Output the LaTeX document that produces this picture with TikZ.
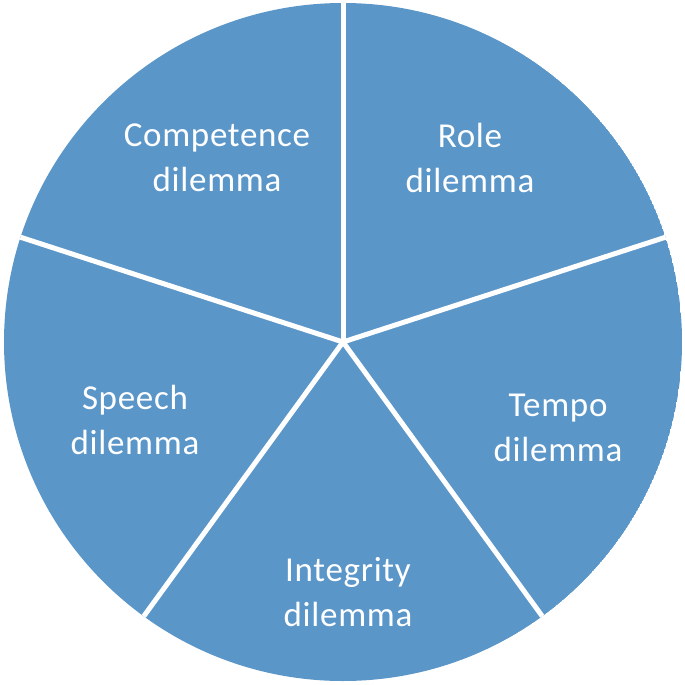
\documentclass[tikz,border=0pt]{standalone}
\usepackage{fontspec}
\setmainfont{Carlito}[LetterSpace=2]
\definecolor{pieblue}{RGB}{91,150,201}
\begin{document}
\begin{tikzpicture}[x=1pt,y=1pt,
  lbl/.style={text=white,align=center,font=\fontsize{35}{45}\selectfont,inner sep=0pt},
  sep/.style={white,line width=5pt}]
\useasboundingbox (0,0) rectangle (685,-685);
\coordinate (c) at (343,-342);
\begin{scope}
\clip (c) circle (339);
\fill[pieblue] (c) circle (339);
\foreach \a in {90,18,-54,-126,162}
  \draw[sep] (c) -- ++(\a:360);
\end{scope}
\node[lbl] (comp) at (217,-158) {Competence\\dilemma};
\node[lbl] (role) at (470,-158) {Role\\dilemma};
\node[lbl] (tempo) at (558,-428) {Tempo\\dilemma};
\node[lbl] (integ) at (348,-592) {Integrity\\dilemma};
\node[lbl] (speech) at (135,-420) {Speech\\dilemma};
\end{tikzpicture}
\end{document}
